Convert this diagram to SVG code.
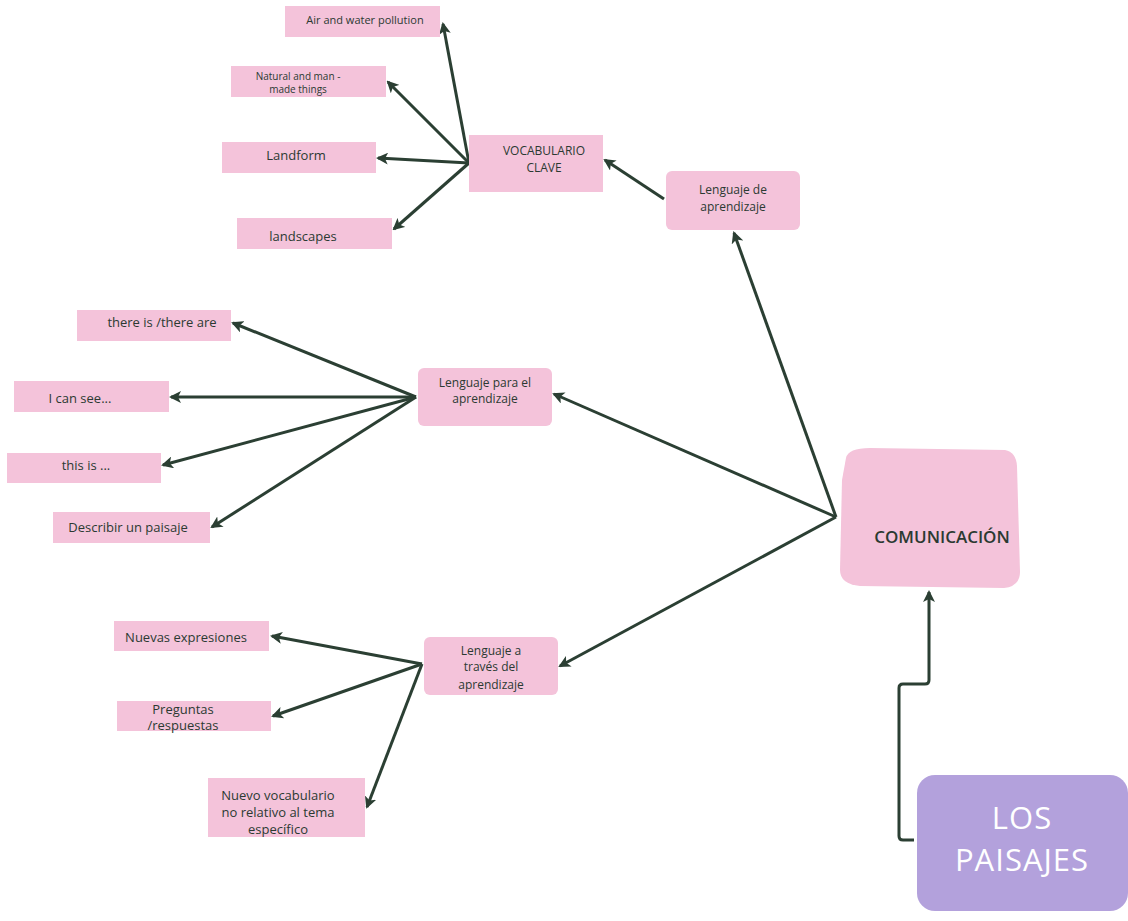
<svg xmlns="http://www.w3.org/2000/svg" width="1128" height="921" viewBox="0 0 1128 921">
  <defs>
    <marker id="arrow" viewBox="0 0 12 12" refX="10" refY="6" markerWidth="12" markerHeight="12" markerUnits="userSpaceOnUse" orient="auto">
      <path d="M0,0 L12,6 L0,12 L3,6 Z" fill="#2b3f33"/>
    </marker>
    <style>
      .box { fill: #f4c3da; }
      .main { fill: #f4c3da; }
      .topic { fill: #b3a1dc; }
      .lbl { font-family: "Open Sans", "Liberation Sans", sans-serif; fill: #2b3a32; text-anchor: middle; }
      .s { font-size: 11px; }
      .c { font-size: 12px; }
      .m { font-size: 13px; }
      .big { font-family: "Open Sans", "Liberation Sans", sans-serif; fill: #ffffff; text-anchor: middle; font-size: 31px; letter-spacing: 1px; }
      .edge { fill: none; stroke: #2b3f33; stroke-width: 3; marker-end: url(#arrow); }
    </style>
  </defs>
  <rect width="1128" height="921" fill="#ffffff"/>

  <!-- connectors -->
  <g id="connectors">
    <line class="edge" x1="469" y1="163" x2="443" y2="24"/>
    <line class="edge" x1="469" y1="163" x2="388" y2="82"/>
    <line class="edge" x1="469" y1="163" x2="378" y2="158"/>
    <line class="edge" x1="469" y1="163" x2="394" y2="229"/>
    <line class="edge" x1="664" y1="199" x2="605" y2="160"/>
    <line class="edge" x1="836" y1="517" x2="734" y2="233"/>
    <line class="edge" x1="836" y1="517" x2="554" y2="394"/>
    <line class="edge" x1="836" y1="517" x2="560" y2="666"/>
    <line class="edge" x1="416" y1="397" x2="233" y2="323"/>
    <line class="edge" x1="416" y1="397" x2="171" y2="397"/>
    <line class="edge" x1="416" y1="397" x2="163" y2="465"/>
    <line class="edge" x1="416" y1="397" x2="212" y2="527"/>
    <line class="edge" x1="422" y1="664" x2="272" y2="636"/>
    <line class="edge" x1="422" y1="664" x2="273" y2="716"/>
    <line class="edge" x1="422" y1="664" x2="367" y2="807"/>
    <path class="edge" d="M914,840 L903,840 Q899,840 899,836 L899,688 Q899,684 903,684 L925,684 Q929,684 929,680 L929,592"/>
  </g>

  <!-- vocabulary leaves -->
  <g id="air-water">
    <rect class="box" x="285" y="6" width="155" height="31"/>
    <text class="lbl s" x="365" y="24">Air and water pollution</text>
  </g>
  <g id="natural-man-made">
    <rect class="box" x="231" y="66" width="155" height="31"/>
    <text class="lbl" font-size="10" x="298" y="80">Natural and man -</text>
    <text class="lbl" font-size="10" x="298" y="93">made things</text>
  </g>
  <g id="landform">
    <rect class="box" x="222" y="142" width="154" height="31"/>
    <text class="lbl m" x="296" y="160">Landform</text>
  </g>
  <g id="landscapes">
    <rect class="box" x="237" y="218" width="155" height="31"/>
    <text class="lbl m" x="303" y="241">landscapes</text>
  </g>
  <g id="vocabulario-clave">
    <rect class="box" x="469" y="135" width="134" height="57"/>
    <text class="lbl c" x="544" y="155">VOCABULARIO</text>
    <text class="lbl c" x="544" y="172">CLAVE</text>
  </g>
  <g id="lenguaje-de-aprendizaje">
    <rect class="box" x="666" y="171" width="134" height="59" rx="6"/>
    <text class="lbl c" x="733" y="194">Lenguaje de</text>
    <text class="lbl c" x="733" y="211">aprendizaje</text>
  </g>

  <!-- language for learning -->
  <g id="there-is">
    <rect class="box" x="77" y="310" width="154" height="31"/>
    <text class="lbl m" x="162" y="327">there is /there are</text>
  </g>
  <g id="i-can-see">
    <rect class="box" x="14" y="381" width="155" height="31"/>
    <text class="lbl m" x="80" y="403">I can see...</text>
  </g>
  <g id="this-is">
    <rect class="box" x="7" y="453" width="154" height="30"/>
    <text class="lbl m" x="86" y="470">this is ...</text>
  </g>
  <g id="describir">
    <rect class="box" x="53" y="512" width="157" height="31"/>
    <text class="lbl m" x="128" y="532">Describir un paisaje</text>
  </g>
  <g id="lenguaje-para-el-aprendizaje">
    <rect class="box" x="418" y="368" width="134" height="58" rx="6"/>
    <text class="lbl c" x="485" y="387">Lenguaje para el</text>
    <text class="lbl c" x="485" y="403">aprendizaje</text>
  </g>

  <!-- language through learning -->
  <g id="nuevas-expresiones">
    <rect class="box" x="114" y="621" width="155" height="30"/>
    <text class="lbl m" x="186" y="642">Nuevas expresiones</text>
  </g>
  <g id="preguntas">
    <rect class="box" x="117" y="701" width="154" height="30"/>
    <text class="lbl m" x="183" y="714">Preguntas</text>
    <text class="lbl m" x="183" y="730">/respuestas</text>
  </g>
  <g id="nuevo-vocabulario">
    <rect class="box" x="208" y="778" width="157" height="59"/>
    <text class="lbl m" x="278" y="800">Nuevo vocabulario</text>
    <text class="lbl m" x="278" y="817">no relativo al tema</text>
    <text class="lbl m" x="278" y="834">específico</text>
  </g>
  <g id="lenguaje-a-traves">
    <rect class="box" x="424" y="637" width="134" height="58" rx="6"/>
    <text class="lbl c" x="491" y="655">Lenguaje a</text>
    <text class="lbl c" x="491" y="671">través del</text>
    <text class="lbl c" x="491" y="689">aprendizaje</text>
  </g>

  <!-- central nodes -->
  <g id="comunicacion">
    <path class="main" d="M846,458 Q848,448 870,448 L1005,450 Q1016,452 1017,466 L1020,572 Q1020,586 1004,588 L860,586 Q840,584 840,570 L842,480 Z"/>
    <text class="lbl" font-size="17" font-weight="600" x="942" y="543">COMUNICACIÓN</text>
  </g>
  <g id="los-paisajes">
    <rect class="topic" x="917" y="775" width="211" height="136" rx="18"/>
    <text class="big" x="1022" y="829">LOS</text>
    <text class="big" x="1022" y="871">PAISAJES</text>
  </g>
</svg>
